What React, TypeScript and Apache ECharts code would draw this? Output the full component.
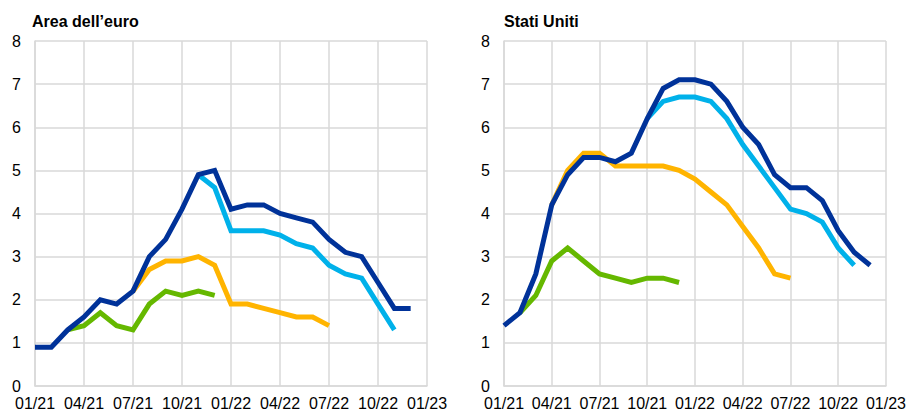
import React, { useEffect, useRef } from "react";
import * as echarts from "echarts";

const months = [
  "01/21", "02/21", "03/21", "04/21", "05/21", "06/21", "07/21", "08/21", "09/21", "10/21", "11/21", "12/21",
  "01/22", "02/22", "03/22", "04/22", "05/22", "06/22", "07/22", "08/22", "09/22", "10/22", "11/22", "12/22",
  "01/23",
];

const yTicks = [0, 1, 2, 3, 4, 5, 6, 7, 8];

const panelTitles = ["Area dell\u2019euro", "Stati Uniti"];

// Euro area
const euroDark = [0.9, 0.9, 1.3, 1.6, 2.0, 1.9, 2.2, 3.0, 3.4, 4.1, 4.9, 5.0, 4.1, 4.2, 4.2, 4.0, 3.9, 3.8, 3.4, 3.1, 3.0, 2.4, 1.8, 1.8, null];
const euroLight = [null, null, null, null, null, null, null, null, null, null, 4.9, 4.6, 3.6, 3.6, 3.6, 3.5, 3.3, 3.2, 2.8, 2.6, 2.5, 1.9, 1.3, null, null];
const euroOrange = [null, null, null, null, null, null, 2.2, 2.7, 2.9, 2.9, 3.0, 2.8, 1.9, 1.9, 1.8, 1.7, 1.6, 1.6, 1.4, null, null, null, null, null, null];
const euroGreen = [null, null, 1.3, 1.4, 1.7, 1.4, 1.3, 1.9, 2.2, 2.1, 2.2, 2.1, null, null, null, null, null, null, null, null, null, null, null, null, null];

// United States
const usDark = [1.4, 1.7, 2.6, 4.2, 4.9, 5.3, 5.3, 5.2, 5.4, 6.2, 6.9, 7.1, 7.1, 7.0, 6.6, 6.0, 5.6, 4.9, 4.6, 4.6, 4.3, 3.6, 3.1, 2.8, null];
const usLight = [null, null, null, null, null, null, null, null, null, 6.2, 6.6, 6.7, 6.7, 6.6, 6.2, 5.6, 5.1, 4.6, 4.1, 4.0, 3.8, 3.2, 2.8, null, null];
const usOrange = [null, null, null, 4.2, 5.0, 5.4, 5.4, 5.1, 5.1, 5.1, 5.1, 5.0, 4.8, 4.5, 4.2, 3.7, 3.2, 2.6, 2.5, null, null, null, null, null, null];
const usGreen = [null, 1.7, 2.1, 2.9, 3.2, 2.9, 2.6, 2.5, 2.4, 2.5, 2.5, 2.4, null, null, null, null, null, null, null, null, null, null, null, null, null];

const COLORS = { dark: "#003299", light: "#00B1EA", orange: "#FFB400", green: "#65B800" };
const FONT = 'Arial, "Liberation Sans", sans-serif';
const GRID_COLOR = "#d9d9d9";

export default function App() {
  const ref = useRef<HTMLDivElement>(null);

  useEffect(() => {
    if (!ref.current) return;
    const chart = echarts.init(ref.current, undefined, { renderer: "svg" });

    const xAxis = (gridIndex: number) => ({
      type: "category",
      gridIndex,
      data: months,
      boundaryGap: false,
      axisLine: { show: true, lineStyle: { color: GRID_COLOR, width: 1.5 } },
      axisTick: { show: false },
      axisLabel: { interval: 2, color: "#000", fontSize: 16, fontFamily: FONT, margin: 9 },
      splitLine: { show: true, interval: 2, lineStyle: { color: GRID_COLOR, width: 1.5 } },
    });
    const yAxis = (gridIndex: number) => ({
      type: "value",
      gridIndex,
      min: yTicks[0],
      max: yTicks[yTicks.length - 1],
      interval: 1,
      axisLine: { show: true, lineStyle: { color: GRID_COLOR, width: 1.5 } },
      axisTick: { show: false },
      axisLabel: { color: "#000", fontSize: 16, fontFamily: FONT, margin: 14 },
      splitLine: { show: true, lineStyle: { color: GRID_COLOR, width: 1.5 } },
    });

    const line = (data: (number | null)[], color: string, idx: number, z: number) => ({
      type: "line",
      xAxisIndex: idx,
      yAxisIndex: idx,
      data,
      showSymbol: false,
      symbol: "none",
      connectNulls: false,
      z,
      lineStyle: { color, width: 5, join: "miter" },
      itemStyle: { color },
    });

    const titleStyle = { fontSize: 16, fontWeight: "bold", fontFamily: FONT, color: "#000" };

    chart.setOption({
      animation: false,
      backgroundColor: "#fff",
      title: [
        { text: panelTitles[0], left: 27, top: 8, textStyle: titleStyle },
        { text: panelTitles[1], left: 499, top: 8, textStyle: titleStyle },
      ],
      grid: [
        { left: 35, right: 482, top: 41, bottom: 26 },
        { left: 504, right: 20, top: 41, bottom: 26 },
      ],
      xAxis: [xAxis(0), xAxis(1)],
      yAxis: [yAxis(0), yAxis(1)],
      series: [
        line(euroGreen, COLORS.green, 0, 2),
        line(euroOrange, COLORS.orange, 0, 3),
        line(euroLight, COLORS.light, 0, 4),
        line(euroDark, COLORS.dark, 0, 5),
        line(usGreen, COLORS.green, 1, 2),
        line(usOrange, COLORS.orange, 1, 3),
        line(usLight, COLORS.light, 1, 4),
        line(usDark, COLORS.dark, 1, 5),
      ],
    });

    return () => chart.dispose();
  }, []);

  return <div ref={ref} style={{ position: "fixed", left: 0, top: 0, width: 909, height: 412 }} />;
}
